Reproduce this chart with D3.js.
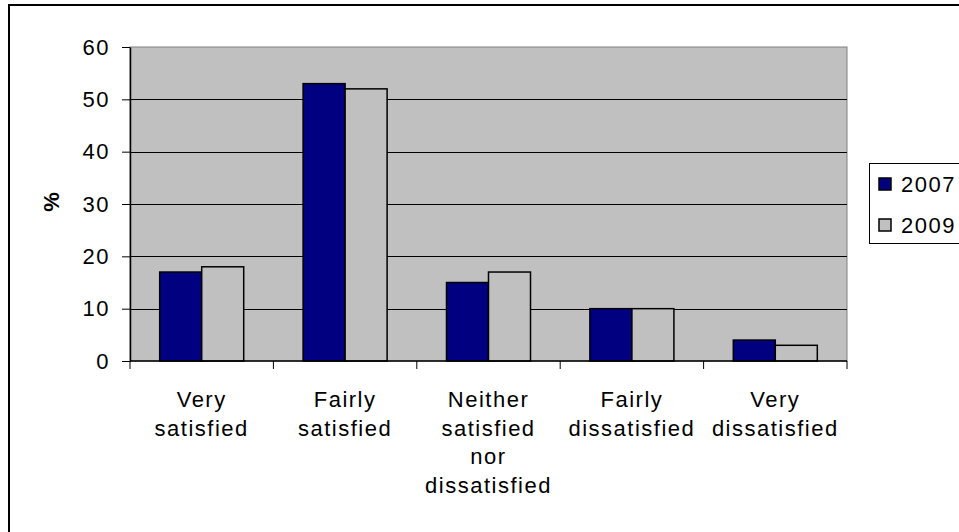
<!DOCTYPE html>
<html>
<head>
<meta charset="utf-8">
<script src="https://cdn.jsdelivr.net/npm/d3@7"></script>
<style>
  html, body { margin: 0; padding: 0; background: #fff; }
  svg { display: block; font-family: "Liberation Sans", Arial, sans-serif; }
</style>
</head>
<body>
<svg id="chart" width="959" height="532"></svg>
<script>
// Satisfaction survey responses (%), 2007 vs 2009
const categories = [
  ["Very", "satisfied"],
  ["Fairly", "satisfied"],
  ["Neither", "satisfied", "nor", "dissatisfied"],
  ["Fairly", "dissatisfied"],
  ["Very", "dissatisfied"]
];
const seriesNames = ["2007", "2009"];
const values2007 = [17, 53, 15, 10, 4];
const values2009 = [18, 52, 17, 10, 3];
const yTicks = [0, 10, 20, 30, 40, 50, 60];
const colors = ["#000080", "#C0C0C0"];

const FONT = 22;
const SPACING = "1.5px";

const svg = d3.select("#chart");

// outer chart frame
svg.append("rect")
  .attr("x", 9).attr("y", 5)
  .attr("width", 960).attr("height", 540)
  .attr("fill", "#fff").attr("stroke", "#000").attr("stroke-width", 2);

const plot = { left: 130, top: 47, right: 847, bottom: 361 };

const x0 = d3.scaleBand()
  .domain(d3.range(categories.length))
  .range([plot.left, plot.right])
  .paddingInner(0).paddingOuter(0);

const x1 = d3.scaleBand()
  .domain(seriesNames)
  .range([0, x0.bandwidth()])
  .paddingInner(0)
  .paddingOuter(0.707);

const y = d3.scaleLinear().domain([0, 60]).range([plot.bottom, plot.top]);

// plot area background
svg.append("rect")
  .attr("x", plot.left).attr("y", plot.top)
  .attr("width", plot.right - plot.left).attr("height", plot.bottom - plot.top)
  .attr("fill", "#C0C0C0").attr("stroke", "#808080").attr("stroke-width", 1);

// horizontal gridlines
svg.append("g").selectAll("line")
  .data(yTicks.filter(t => t > 0 && t < 60))
  .join("line")
  .attr("x1", plot.left).attr("x2", plot.right)
  .attr("y1", d => Math.round(y(d)) + 0.5).attr("y2", d => Math.round(y(d)) + 0.5)
  .attr("stroke", "#000").attr("stroke-width", 1);

// bars
const data = categories.map((c, i) => ({ i, vals: [values2007[i], values2009[i]] }));
const groups = svg.append("g").selectAll("g")
  .data(data).join("g")
  .attr("transform", d => `translate(${x0(d.i)},0)`);
groups.selectAll("rect")
  .data(d => d.vals.map((v, k) => ({ v, k })))
  .join("rect")
  .attr("x", d => x1(seriesNames[d.k]))
  .attr("y", d => y(d.v))
  .attr("width", x1.bandwidth())
  .attr("height", d => y(0) - y(d.v))
  .attr("fill", d => colors[d.k])
  .attr("stroke", "#000").attr("stroke-width", 1.5);

// y axis
const yAxis = svg.append("g")
  .attr("transform", `translate(${plot.left},0)`)
  .call(d3.axisLeft(y).tickValues(yTicks).tickSize(8).tickPadding(12).tickSizeOuter(0));
yAxis.select(".domain").attr("stroke", "#000").attr("stroke-width", 1.5);
yAxis.selectAll(".tick line").attr("stroke", "#000");
yAxis.selectAll(".tick text")
  .attr("font-size", FONT).attr("fill", "#000")
  .attr("letter-spacing", SPACING)
  .attr("font-family", "Liberation Sans, Arial, sans-serif");

// x axis baseline and tick marks
svg.append("line")
  .attr("x1", plot.left).attr("x2", plot.right)
  .attr("y1", plot.bottom).attr("y2", plot.bottom)
  .attr("stroke", "#000").attr("stroke-width", 1.5);
const bounds = d3.range(categories.length + 1).map(i => plot.left + i * x0.bandwidth());
svg.append("g").selectAll("line")
  .data(bounds).join("line")
  .attr("x1", d => d).attr("x2", d => d)
  .attr("y1", plot.bottom).attr("y2", plot.bottom + 8)
  .attr("stroke", "#000");

// category labels
const lbl = svg.append("g").selectAll("text")
  .data(categories).join("text")
  .attr("x", (d, i) => x0(i) + x0.bandwidth() / 2)
  .attr("y", 407)
  .attr("text-anchor", "middle")
  .attr("letter-spacing", SPACING)
  .attr("font-size", FONT).attr("fill", "#000");
lbl.selectAll("tspan")
  .data(d => d).join("tspan")
  .attr("x", function () { return d3.select(this.parentNode).attr("x"); })
  .attr("dy", (d, i) => i === 0 ? 0 : 28.5)
  .text(d => d);

// y axis title
svg.append("text")
  .attr("transform", "translate(59,202) rotate(-90)")
  .attr("text-anchor", "middle")
  .attr("font-size", FONT).attr("font-weight", "bold")
  .text("%");

// legend
const legend = svg.append("g");
legend.append("rect")
  .attr("x", 869.5).attr("y", 163.5).attr("width", 100).attr("height", 80)
  .attr("fill", "#fff").attr("stroke", "#000").attr("stroke-width", 1);
seriesNames.forEach((s, k) => {
  const cy = 184 + k * 41;
  legend.append("rect")
    .attr("x", 879).attr("y", cy - 6).attr("width", 12).attr("height", 12)
    .attr("fill", colors[k]).attr("stroke", "#000").attr("stroke-width", 1.5);
  legend.append("text")
    .attr("x", 901).attr("y", cy + 8)
    .attr("font-size", FONT).attr("fill", "#000")
    .attr("letter-spacing", SPACING)
    .text(s);
});
</script>
</body>
</html>
